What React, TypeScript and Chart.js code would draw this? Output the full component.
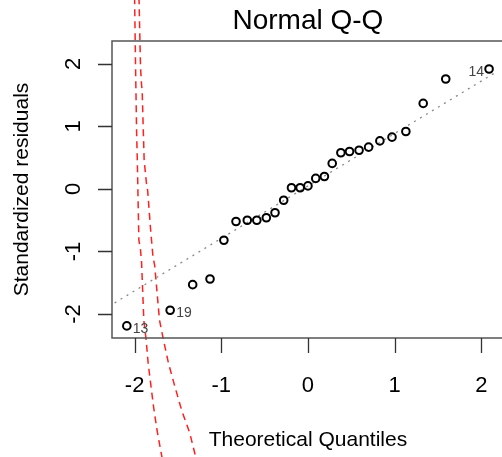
import React, { useEffect, useRef } from "react";
import { Chart, registerables } from "chart.js";
Chart.register(...registerables);

// Theoretical quantiles (x) and standardized residuals (y)
const theoreticalQ = [-2.09, -1.59, -1.33, -1.13, -0.97, -0.83, -0.70, -0.59, -0.48, -0.38, -0.28, -0.19, -0.09, 0.0, 0.09, 0.19, 0.28, 0.38, 0.48, 0.59, 0.70, 0.83, 0.97, 1.13, 1.33, 1.59, 2.09];
const stdResiduals = [-2.19, -1.94, -1.53, -1.44, -0.82, -0.52, -0.50, -0.50, -0.46, -0.38, -0.18, 0.02, 0.02, 0.05, 0.17, 0.20, 0.41, 0.58, 0.60, 0.62, 0.67, 0.77, 0.83, 0.92, 1.37, 1.76, 1.92];

const labeledIndex = [0, 1, 26];
const labeledText = ["13", "19", "14"];
const labeledSide = ["right", "right", "left"];

// reference (qq) line end points
const qqLineX = [-2.3, 2.3];
const qqLineY = [-1.881, 1.979];

// red dashed curves
const redLeftX = [-2.002, -2.0, -1.989, -1.977, -1.969, -1.951, -1.932, -1.92, -1.894, -1.867, -1.844, -1.81, -1.781, -1.742, -1.685, -1.659];
const redLeftY = [3.26, 3.024, 1.952, 0.896, 0.464, -0.816, -0.976, -1.168, -2.096, -2.416, -2.784, -3.168, -3.488, -3.856, -4.288, -4.5];
const redRightX = [-1.951, -1.949, -1.932, -1.92, -1.913, -1.901, -1.89, -1.864, -1.849, -1.818, -1.788, -1.769, -1.713, -1.667, -1.61, -1.534, -1.458, -1.364, -1.295, -1.261];
const redRightY = [3.26, 3.024, 1.952, 1.664, 1.584, 0.992, 0.464, 0.096, -0.032, -0.608, -1.088, -1.216, -2.096, -2.416, -2.784, -3.168, -3.536, -3.904, -4.288, -4.5];

const xTicks = [-2, -1, 0, 1, 2];
const yTicks = [-2, -1, 0, 1, 2];
const xRange = [-2.261, 2.17];
const yRange = [-2.384, 2.368];

const titleText = "Normal Q-Q";
const xTitle = "Theoretical Quantiles";
const yTitle = "Standardized residuals";

const FONT = "'Liberation Sans', Arial, Helvetica, sans-serif";

const toXY = (xs: number[], ys: number[]) => xs.map((x, i) => ({ x, y: ys[i] }));

const framePlugin = {
  id: "rframe",
  afterDraw(chart: any) {
    const { ctx, chartArea: a, scales } = chart;
    const xs = scales.x;
    const ys = scales.y;
    const cx = xs.getPixelForValue(0);
    const cy = (a.top + a.bottom) / 2;
    ctx.save();
    // box
    ctx.strokeStyle = "#555";
    ctx.lineWidth = 1.5;
    ctx.beginPath();
    ctx.moveTo(a.right + 20, a.top);
    ctx.lineTo(a.left, a.top);
    ctx.lineTo(a.left, a.bottom);
    ctx.lineTo(a.right + 20, a.bottom);
    ctx.stroke();
    // ticks
    ctx.strokeStyle = "#333";
    ctx.lineWidth = 1.3;
    ctx.beginPath();
    xTicks.forEach((t) => {
      const px = Math.round(xs.getPixelForValue(t)) + 0.5;
      ctx.moveTo(px, a.bottom);
      ctx.lineTo(px, a.bottom + 15);
    });
    yTicks.forEach((t) => {
      const py = Math.round(ys.getPixelForValue(t)) + 0.5;
      ctx.moveTo(a.left, py);
      ctx.lineTo(a.left - 14, py);
    });
    ctx.stroke();
    // tick labels
    ctx.fillStyle = "#000";
    ctx.font = `22px ${FONT}`;
    ctx.textAlign = "center";
    ctx.textBaseline = "alphabetic";
    xTicks.forEach((t) => {
      ctx.fillText(String(t), xs.getPixelForValue(t), a.bottom + 54);
    });
    yTicks.forEach((t) => {
      ctx.save();
      ctx.translate(80, ys.getPixelForValue(t));
      ctx.rotate(-Math.PI / 2);
      ctx.fillText(String(t), 0, 0);
      ctx.restore();
    });
    // axis titles
    ctx.font = `21px ${FONT}`;
    ctx.fillText(xTitle, cx, 446);
    ctx.save();
    ctx.translate(28, cy);
    ctx.rotate(-Math.PI / 2);
    ctx.fillText(yTitle, 0, 0);
    ctx.restore();
    // main title
    ctx.font = `28px ${FONT}`;
    ctx.fillText(titleText, cx, 28.5);
    // point labels
    ctx.font = `14px ${FONT}`;
    ctx.fillStyle = "#444";
    ctx.textBaseline = "middle";
    labeledIndex.forEach((idx, k) => {
      const px = xs.getPixelForValue(theoreticalQ[idx]);
      const py = ys.getPixelForValue(stdResiduals[idx]);
      if (labeledSide[k] === "right") {
        ctx.textAlign = "left";
        ctx.fillText(labeledText[k], px + 6, py + 3);
      } else {
        ctx.textAlign = "right";
        ctx.fillText(labeledText[k], px - 5, py + 3);
      }
    });
    ctx.restore();
  },
};

export default function App() {
  const ref = useRef<HTMLCanvasElement | null>(null);
  useEffect(() => {
    document.body.style.margin = "0";
    const canvas = ref.current;
    if (!canvas) return;
    const chart = new Chart(canvas, {
      type: "scatter",
      data: {
        datasets: [
          {
            data: toXY(theoreticalQ, stdResiduals),
            pointRadius: 3.8,
            pointBorderWidth: 2,
            pointBorderColor: "#000",
            pointBackgroundColor: "rgba(0,0,0,0)",
            showLine: false,
          } as any,
          {
            data: toXY(qqLineX, qqLineY),
            showLine: true,
            pointRadius: 0,
            borderColor: "#888",
            borderWidth: 1.3,
            borderDash: [2, 5],
          } as any,
          {
            data: toXY(redLeftX, redLeftY),
            showLine: true,
            pointRadius: 0,
            borderColor: "#ff2020",
            borderWidth: 1.5,
            borderDash: [7, 5],
            clip: false,
          } as any,
          {
            data: toXY(redRightX, redRightY),
            showLine: true,
            pointRadius: 0,
            borderColor: "#ff2020",
            borderWidth: 1.5,
            borderDash: [7, 5],
            clip: false,
          } as any,
        ],
      },
      options: {
        responsive: false,
        animation: false,
        devicePixelRatio: 1,
        layout: { padding: { left: 112, top: 41, right: 0, bottom: 119 } },
        plugins: { legend: { display: false }, tooltip: { enabled: false }, title: { display: false } },
        scales: {
          x: { type: "linear", display: false, min: xRange[0], max: xRange[1] },
          y: { type: "linear", display: false, min: yRange[0], max: yRange[1] },
        },
      } as any,
      plugins: [framePlugin],
    });
    return () => chart.destroy();
  }, []);
  return <canvas ref={ref} width={502} height={457} style={{ display: "block" }} />;
}
